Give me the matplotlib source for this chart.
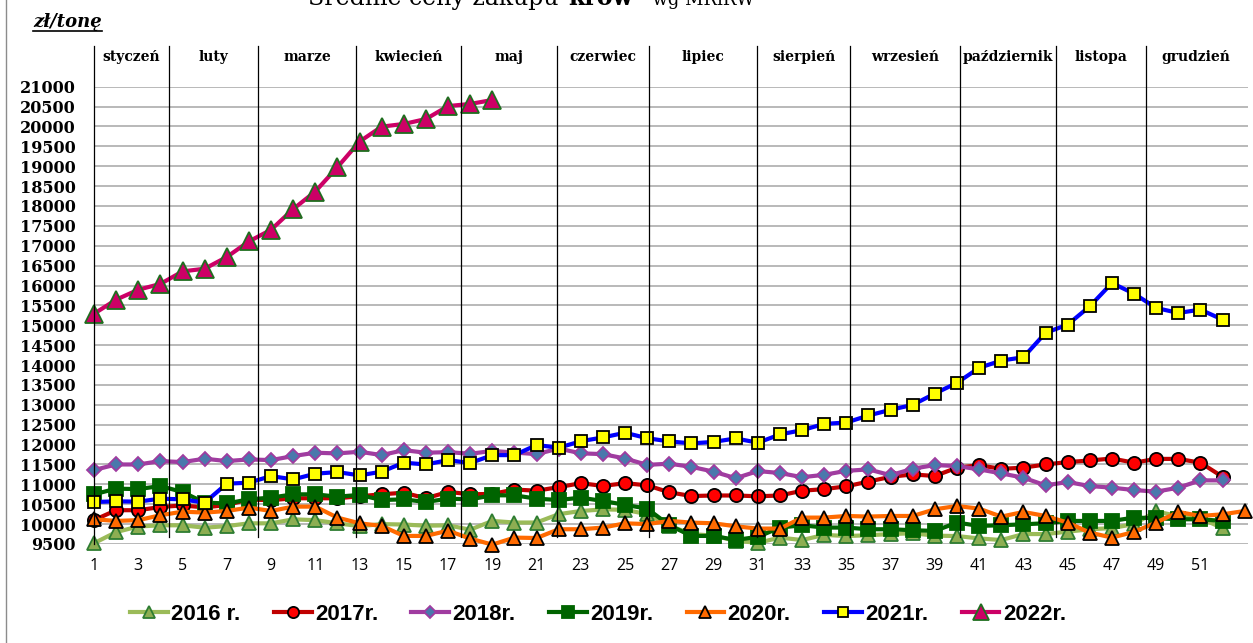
import numpy as np
import matplotlib.pyplot as plt
import matplotlib.transforms as mtransforms

# %%
# dane: średnie ceny zakupu krów (zł/tonę), tygodnie 1-52 (2020: 1-53, 2022: 1-19)
tygodnie = np.arange(1, 53)
tygodnie_2020 = np.arange(1, 54)
tygodnie_2022 = np.arange(1, 20)

ceny_2016 = [9520, 9800, 9940, 9970, 9970, 9910, 9950, 10020, 10020, 10120,
             10100, 10020, 9950, 10000, 9990, 9960, 9970, 9860, 10080, 10040,
             10040, 10250, 10330, 10370, 10360, 10250, 9960, 9750, 9710, 9580,
             9530, 9660, 9600, 9730, 9700, 9720, 9750, 9770, 9710, 9700,
             9640, 9600, 9750, 9750, 9810, 9870, 9900, 10000, 10320, 10200,
             10150, 9900]
ceny_2017 = [10100, 10350, 10350, 10430, 10470, 10420, 10480, 10620, 10600, 10650,
             10650, 10650, 10700, 10750, 10790, 10650, 10810, 10750, 10760, 10870,
             10840, 10930, 11030, 10960, 11030, 10975, 10800, 10706, 10720, 10720,
             10700, 10720, 10840, 10880, 10950, 11070, 11190, 11250, 11210, 11420,
             11480, 11390, 11420, 11500, 11560, 11600, 11650, 11545, 11640, 11640,
             11545, 11190]
ceny_2018 = [11360, 11500, 11500, 11585, 11560, 11645, 11585, 11627, 11610, 11711,
             11795, 11778, 11820, 11736, 11860, 11795, 11810, 11770, 11840, 11800,
             11760, 11900, 11780, 11760, 11650, 11490, 11520, 11440, 11320, 11155,
             11334, 11285, 11180, 11240, 11340, 11376, 11230, 11393, 11485, 11460,
             11376, 11276, 11167, 10975, 11058, 10958, 10916, 10857, 10816, 10916,
             11100, 11100]
ceny_2019 = [10749, 10892, 10880, 10958, 10807, 10540, 10520, 10623, 10666, 10749,
             10749, 10690, 10735, 10606, 10623, 10556, 10640, 10623, 10724, 10724,
             10640, 10606, 10666, 10581, 10485, 10389, 9971, 9703, 9703, 9602,
             9680, 9913, 9971, 9913, 9913, 9871, 9871, 9846, 9829, 10038,
             9955, 9971, 9996, 10021, 10080, 10080, 10080, 10164, 10150, 10122,
             10122, 10080]
ceny_2020 = [10122, 10080, 10100, 10222, 10314, 10290, 10330, 10415, 10330, 10440,
             10440, 10164, 10021, 9955, 9703, 9703, 9835, 9636, 9485, 9661,
             9650, 9871, 9871, 9913, 10020, 10000, 10080, 10038, 10021, 9945,
             9888, 9888, 10164, 10164, 10205, 10190, 10205, 10205, 10373, 10456,
             10389, 10189, 10306, 10205, 10038, 9787, 9661, 9804, 10038, 10306,
             10205, 10247, 10330]
ceny_2021 = [10556, 10573, 10565, 10640, 10623, 10540, 11017, 11042, 11208, 11125,
             11268, 11309, 11226, 11318, 11545, 11500, 11610, 11535, 11735, 11735,
             11990, 11920, 12085, 12180, 12298, 12160, 12080, 12030, 12068, 12155,
             12047, 12255, 12363, 12520, 12555, 12732, 12875, 12999, 13284, 13553,
             13930, 14113, 14196, 14809, 15017, 15477, 16063, 15795, 15436, 15310,
             15394, 15143]
ceny_2022 = [15290, 15644, 15894, 16040, 16355, 16423, 16717, 17109, 17402, 17922,
             18364, 18976, 19620, 19996, 20063, 20187, 20513, 20566, 20666]

miesiace = ['styczeń', 'luty', 'marze', 'kwiecień', 'maj', 'czerwiec', 'lipiec',
            'sierpień', 'wrzesień', 'październik', 'listopa', 'grudzień']
# granice miesięcy w numerach tygodni
granice = [1.0, 4.4, 8.42, 12.84, 17.58, 21.91, 26.06, 30.97, 35.16, 40.13,
           44.47, 48.54, 53.0]

# %%
W, H = 1253, 643
fig = plt.figure(figsize=(W / 100, H / 100), dpi=100)
ax = fig.add_axes([94 / W, (H - 544) / H, 1154 / W, 457.3 / H])

# serie: (x, y, etykieta, kolor linii, marker, rozmiar, wypełnienie, obwódka)
serie = [
    (tygodnie, ceny_2016, '2016 r.', '#9BBB59', '^', 10, '#8DAE52', '#2E7D32'),
    (tygodnie, ceny_2017, '2017r.', '#C00000', 'o', 9.5, '#FF0000', 'black'),
    (tygodnie, ceny_2018, '2018r.', '#A03CA0', 'D', 7, '#4A78AC', '#A03CA0'),
    (tygodnie, ceny_2019, '2019r.', '#006400', 's', 9.5, '#006400', '#006400'),
    (tygodnie_2020, ceny_2020, '2020r.', '#FF6A00', '^', 10, '#FF6A00', 'black'),
    (tygodnie, ceny_2021, '2021r.', '#0000FF', 's', 8.5, '#FFFF00', 'black'),
    (tygodnie_2022, ceny_2022, '2022r.', '#CC0066', '^', 13, '#CC0066', '#1F6E1F'),
]
uchwyty = []
for x, y, lab, kol, mk, ms, fc, ec in serie:
    ln, = ax.plot(x, y, color=kol, lw=3, marker=mk, markersize=ms,
                  markerfacecolor=fc, markeredgecolor=ec, markeredgewidth=1.3,
                  label=lab, clip_on=False)
    uchwyty.append(ln)

ax.set_xlim(1, 53.15)
ax.set_ylim(9500, 21000)
ax.set_yticks(np.arange(9500, 21001, 500))
ax.set_xticks(np.arange(1, 52, 2))
ax.yaxis.grid(True, color='#A6A6A6', lw=1.1)
ax.set_axisbelow(True)
for s in ax.spines.values():
    s.set_visible(False)
ax.tick_params(length=0)
ax.tick_params(axis='y', pad=13)
ax.tick_params(axis='x', pad=10)
for t in ax.get_yticklabels():
    t.set_fontfamily('DejaVu Serif')
    t.set_fontweight('bold')
    t.set_fontsize(11.5)
for t in ax.get_xticklabels():
    t.set_fontfamily('Open Sans')
    t.set_fontsize(11.5)

# linie podziału na miesiące i nazwy miesięcy
tr = mtransforms.blended_transform_factory(ax.transData, ax.transAxes)
for i, g in enumerate(granice[:-1]):
    dol = 0 if i == 0 else 0.015
    ax.plot([g, g], [dol, 1.09], color='black', lw=0.9, transform=tr, clip_on=False)
for i, m in enumerate(miesiace):
    ax.text((granice[i] + granice[i + 1]) / 2, 1.065, m, transform=tr,
            ha='center', va='center', fontsize=10, fontweight='bold',
            fontfamily='DejaVu Serif')

# jednostka
jedn = fig.text(33 / W, 1 - 27 / H, 'zł/tonę', fontsize=13, fontweight='bold',
                fontstyle='italic', fontfamily='DejaVu Serif', va='baseline')

# tytuł (ucięty u góry, jak w oryginale)
fig.canvas.draw()
r = fig.canvas.get_renderer()
bb = jedn.get_window_extent(r)
fig.add_artist(plt.Line2D([bb.x0 / W, bb.x1 / W], [1 - 31 / H, 1 - 31 / H],
                          color='black', lw=1.2))

x0 = 308
czesci = [('Średnie ceny zakupu ', 'normal', 17), ('krów', 'bold', 17),
          (' - wg MRiRW', 'normal', 13)]
for txt, wt, fs in czesci:
    t = fig.text(x0 / W, 1 - 5 / H, txt, fontsize=fs, fontweight=wt,
                 fontfamily='DejaVu Serif', va='baseline', ha='left')
    x0 = t.get_window_extent(r).x1 + 2

# ramka z lewej
fig.add_artist(plt.Line2D([6 / W, 6 / W], [0, 1], color='#8C8C8C', lw=1))

fig.legend(handles=uchwyty, loc='center', bbox_to_anchor=(598 / W, 1 - 614 / H),
           ncol=7, frameon=False,
           prop=dict(family='Liberation Sans', weight='bold', size=16),
           handlelength=1.7, handletextpad=0.15, columnspacing=1.5,
           markerscale=0.85)

fig.savefig('out.png', dpi=100)
